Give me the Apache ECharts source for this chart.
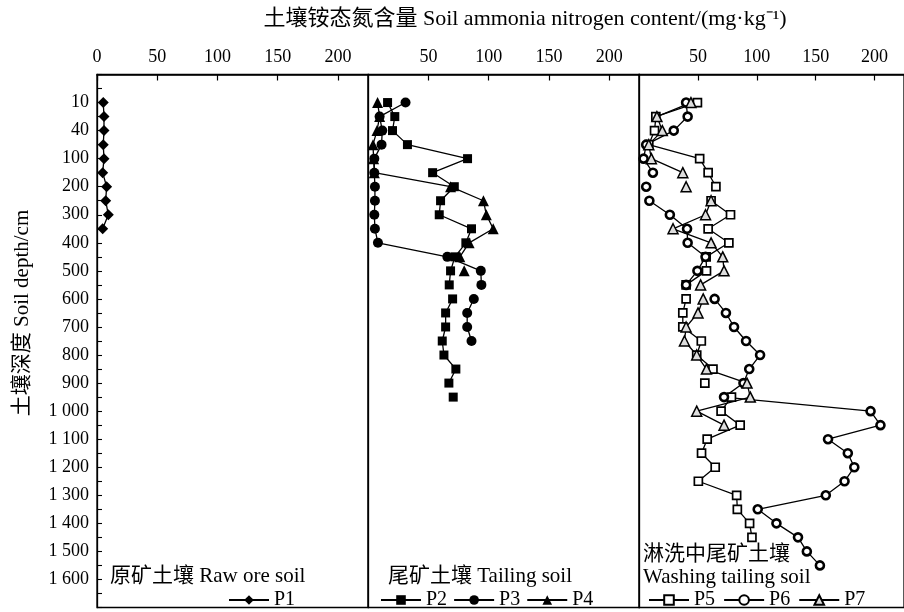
<!DOCTYPE html>
<html><head><meta charset="utf-8">
<script src="https://cdn.jsdelivr.net/npm/echarts@6/dist/echarts.min.js"></script>
<style>html,body{margin:0;padding:0;background:#fff}#c{width:904px;height:612px}</style>
</head><body><div id="c"></div>
<script>
const FONT = '"Liberation Serif","Times New Roman","Noto Sans CJK SC",serif';

// depth categories (two padding slots on top, two below 1600)
const yCategories = ['padA','padB','10','20','40','70','100','150','200','250','300','350','400','450','500','550','600','650','700','750','800','850','900','950','1000','1050','1100','1150','1200','1250','1300','1350','1400','1450','1500','1550','1600','1650','1700'];
const xTicks = [0, 50, 100, 150, 200];

// ammonia nitrogen content (mg/kg), from depth 10 downwards
const p1 = [5.2, 5.8, 5.8, 5.2, 5.8, 4.7, 8.0, 7.2, 9.4, 4.7];
const p2 = [16.0, 22.0, 20.1, 32.5, 82.4, 53.4, 71.4, 60.0, 58.9, 85.7, 81.0, 71.9, 68.3, 67.2, 70.0, 64.2, 64.2, 61.4, 62.8, 72.7, 66.9, 70.5];
const p3 = [30.9, 9.4, 11.6, 11.0, 5.0, 5.0, 5.5, 5.5, 5.0, 5.5, 8.0, 65.6, 93.4, 93.9, 87.6, 82.1, 82.1, 85.7];
const p4 = [7.7, 9.4, 7.2, 3.9, 4.4, 5.0, 68.3, 95.6, 98.0, 103.7, 83.7, 76.0, 79.6];
const p5 = [49.6, 14.3, 13.2, 8.3, 51.5, 58.7, 65.3, 61.2, 77.7, 58.7, 76.3, 57.0, 57.3, 40.0, 40.0, 37.2, 37.2, 52.9, 49.0, 62.8, 55.9, 78.5, 69.7, 85.9, 57.9, 53.1, 64.7, 50.4, 82.9, 83.5, 93.9, 95.9];
const p6 = [40.0, 41.3, 29.5, 6.1, 3.9, 11.8, 6.1, 8.8, 26.2, 40.8, 41.3, 56.5, 49.6, 40.0, 64.2, 73.8, 80.7, 90.9, 102.8, 93.6, 88.7, 72.2, 196.6, 205.0, 160.5, 177.3, 182.8, 174.5, 158.6, 100.8, 116.7, 135.0, 142.5, 153.6];
const p7 = [44.1, 15.2, 19.8, 8.3, 10.5, 37.2, 40.0, 61.2, 56.5, 28.9, 61.2, 71.1, 72.2, 52.3, 54.5, 50.1, 40.0, 38.6, 49.0, 57.3, 91.7, 94.5, 49.0, 72.2];

// line breaks after these sample positions
const p1Breaks = [];
const p2Breaks = [13, 20];
const p3Breaks = [13];
const p4Breaks = [11];
const p5Breaks = [6, 13, 19, 20];
const p6Breaks = [5, 6, 13];
const p7Breaks = [5, 6, 13];

function build(vals, breaks) {
  const out = [];
  vals.forEach((v, i) => {
    const cat = yCategories[i + 2];
    out.push([v, cat]);
    if (breaks.includes(i)) out.push(['-', cat]);
  });
  return out;
}

const chart = echarts.init(document.getElementById('c'), null, {renderer: 'canvas'});
const gridLefts = [97, 368.3, 639];
const grids = gridLefts.map(l => ({left: l, top: 74.5, width: 271, height: 533, show: true, borderColor: '#000', borderWidth: 1.3, backgroundColor: 'transparent'}));

const xAxes = gridLefts.map((l, i) => ({
  gridIndex: i, type: 'value', position: 'top', min: 0, max: 225, interval: 50,
  axisLine: {show: true, onZero: false, lineStyle: {color: '#000', width: 1.6}},
  axisTick: {show: true, inside: true, length: 6, lineStyle: {color: '#000', width: 1.2},
    customValues: i === 0 ? xTicks : xTicks.slice(1)},
  axisLabel: {show: true, color: '#000', fontFamily: FONT, fontSize: 18, margin: 8,
    customValues: i === 0 ? xTicks : xTicks.slice(1)},
  splitLine: {show: false}
}));

const yAxes = gridLefts.map((l, i) => ({
  gridIndex: i, type: 'category', data: yCategories, inverse: true, boundaryGap: false,
  axisLine: {show: true, lineStyle: {color: '#000', width: 1.3}},
  axisTick: {show: i === 0, inside: true, length: 5, interval: 0, lineStyle: {color: '#000', width: 1.1}},
  axisLabel: {show: i === 0, color: '#000', fontFamily: FONT, fontSize: 18, margin: 8,
    interval: (idx) => idx % 2 === 0 && idx >= 2 && idx <= 36,
    formatter: (v) => { const n = Number(v); return n >= 1000 ? String(n).replace(/(\d)(\d{3})$/, '$1 $2') : v; }},
  splitLine: {show: false}
}));

function mk(name, vals, breaks, gi, symbol, size, itemStyle) {
  return {
    name, type: 'line', xAxisIndex: gi, yAxisIndex: gi, data: build(vals, breaks),
    symbol, symbolSize: size, showSymbol: true, showAllSymbol: true, connectNulls: false, animation: false,
    lineStyle: {color: '#000', width: 1.3}, itemStyle
  };
}
const solid = {color: '#000', borderColor: '#000', borderWidth: 0};
const series = [
  mk('P1', p1, p1Breaks, 0, 'diamond', 11, solid),
  mk('P2', p2, p2Breaks, 1, 'rect', 9, solid),
  mk('P3', p3, p3Breaks, 1, 'circle', 10, solid),
  mk('P4', p4, p4Breaks, 1, 'triangle', 11, solid),
  mk('P5', p5, p5Breaks, 2, 'rect', 8, {color: '#fff', borderColor: '#000', borderWidth: 1.7}),
  mk('P6', p6, p6Breaks, 2, 'circle', 8, {color: '#fff', borderColor: '#000', borderWidth: 2.6}),
  mk('P7', p7, p7Breaks, 2, 'triangle', 10, {color: '#ddd', borderColor: '#000', borderWidth: 1.5})
];

const legendBase = {orient: 'horizontal', itemWidth: 40, itemHeight: 12, itemGap: 5,
  textStyle: {fontFamily: FONT, fontSize: 20, color: '#000', padding: [0, 0, 0, 0]}, selectedMode: false, padding: 0};

chart.setOption({
  backgroundColor: '#fff',
  animation: false,
  grid: grids,
  xAxis: xAxes,
  yAxis: yAxes,
  series,
  legend: [
    Object.assign({}, legendBase, {data: ['P1'], left: 228, top: 590}),
    Object.assign({}, legendBase, {data: ['P2', 'P3', 'P4'], left: 380, top: 590, itemGap: 6}),
    Object.assign({}, legendBase, {data: ['P5', 'P6', 'P7'], left: 648, top: 590, itemGap: 8})
  ],
  graphic: [
    {type: 'text', x: 525, y: 19, style: {text: '土壤铵态氮含量 Soil ammonia nitrogen content/(mg·kg⁻¹)', font: '22px ' + FONT, fill: '#000', align: 'center', verticalAlign: 'middle'}},
    {type: 'text', x: 22, y: 313, rotation: Math.PI / 2, style: {text: '土壤深度 Soil depth/cm', font: '21px ' + FONT, fill: '#000', align: 'center', verticalAlign: 'middle'}},
    {type: 'text', x: 110, y: 576, style: {text: '原矿土壤 Raw ore soil', font: '21px ' + FONT, fill: '#000', align: 'left', verticalAlign: 'middle'}},
    {type: 'text', x: 388, y: 576, style: {text: '尾矿土壤 Tailing soil', font: '21px ' + FONT, fill: '#000', align: 'left', verticalAlign: 'middle'}},
    {type: 'text', x: 643, y: 554, style: {text: '淋洗中尾矿土壤', font: '21px ' + FONT, fill: '#000', align: 'left', verticalAlign: 'middle'}},
    {type: 'text', x: 643, y: 577, style: {text: 'Washing tailing soil', font: '21px ' + FONT, fill: '#000', align: 'left', verticalAlign: 'middle'}}
  ]
});
</script>
</body></html>
